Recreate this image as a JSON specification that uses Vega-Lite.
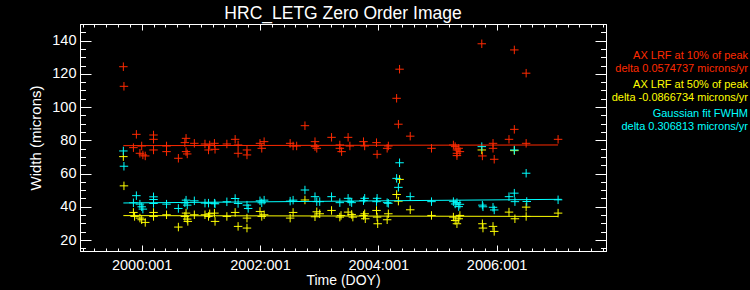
{
  "$schema": "https://vega.github.io/schema/vega-lite/v6.json",
  "width": 526,
  "height": 227,
  "autosize": "none",
  "padding": {"left": 80, "top": 24, "right": 144, "bottom": 39},
  "background": "black",
  "title": {"text": "HRC_LETG Zero Order Image", "color": "white", "fontSize": 17.5, "font": "Liberation Sans", "fontWeight": "normal", "offset": -6, "anchor": "middle"},
  "datasets": {
    "pts": [
      {"s": "10%", "t": 1999.69, "w": 124.3}, {"s": "10%", "t": 1999.70, "w": 112.5}, {"s": "10%", "t": 1999.91, "w": 83.6}, {"s": "10%", "t": 1999.86, "w": 75.6},
      {"s": "10%", "t": 2000.00, "w": 76.6}, {"s": "10%", "t": 1999.97, "w": 72.2}, {"s": "10%", "t": 2000.06, "w": 70.6}, {"s": "10%", "t": 2000.02, "w": 71.2},
      {"s": "10%", "t": 2000.20, "w": 83.2}, {"s": "10%", "t": 2000.20, "w": 80.6}, {"s": "10%", "t": 2000.20, "w": 74.2}, {"s": "10%", "t": 2000.42, "w": 76.6},
      {"s": "10%", "t": 2000.42, "w": 73.2}, {"s": "10%", "t": 2000.62, "w": 69.2}, {"s": "10%", "t": 2000.75, "w": 81.2}, {"s": "10%", "t": 2000.73, "w": 78.6},
      {"s": "10%", "t": 2000.75, "w": 73.2}, {"s": "10%", "t": 2000.77, "w": 71.8}, {"s": "10%", "t": 2000.89, "w": 78.2}, {"s": "10%", "t": 2001.07, "w": 77.8},
      {"s": "10%", "t": 2001.13, "w": 74.2}, {"s": "10%", "t": 2001.15, "w": 77.2}, {"s": "10%", "t": 2001.23, "w": 78.2}, {"s": "10%", "t": 2001.24, "w": 74.6},
      {"s": "10%", "t": 2001.44, "w": 77.8}, {"s": "10%", "t": 2001.58, "w": 80.6}, {"s": "10%", "t": 2001.63, "w": 77.2}, {"s": "10%", "t": 2001.63, "w": 72.2},
      {"s": "10%", "t": 2001.78, "w": 74.2}, {"s": "10%", "t": 2001.78, "w": 71.2}, {"s": "10%", "t": 2002.00, "w": 78.2}, {"s": "10%", "t": 2002.03, "w": 75.2},
      {"s": "10%", "t": 2002.07, "w": 79.2}, {"s": "10%", "t": 2002.51, "w": 78.2}, {"s": "10%", "t": 2002.56, "w": 76.6}, {"s": "10%", "t": 2002.62, "w": 76.6},
      {"s": "10%", "t": 2002.76, "w": 88.8}, {"s": "10%", "t": 2002.93, "w": 79.2}, {"s": "10%", "t": 2002.96, "w": 75.2}, {"s": "10%", "t": 2002.93, "w": 76.2},
      {"s": "10%", "t": 2003.21, "w": 81.8}, {"s": "10%", "t": 2003.35, "w": 77.2}, {"s": "10%", "t": 2003.38, "w": 73.2}, {"s": "10%", "t": 2003.35, "w": 75.2},
      {"s": "10%", "t": 2003.49, "w": 81.8}, {"s": "10%", "t": 2003.52, "w": 76.6}, {"s": "10%", "t": 2003.75, "w": 79.2}, {"s": "10%", "t": 2003.77, "w": 76.6},
      {"s": "10%", "t": 2003.97, "w": 78.6}, {"s": "10%", "t": 2003.98, "w": 71.6}, {"s": "10%", "t": 2004.17, "w": 76.6}, {"s": "10%", "t": 2004.15, "w": 75.2},
      {"s": "10%", "t": 2004.31, "w": 105.3}, {"s": "10%", "t": 2004.34, "w": 89.7}, {"s": "10%", "t": 2004.36, "w": 122.8}, {"s": "10%", "t": 2004.54, "w": 82.5},
      {"s": "10%", "t": 2004.90, "w": 75.2}, {"s": "10%", "t": 2005.27, "w": 77.2}, {"s": "10%", "t": 2005.30, "w": 76.2}, {"s": "10%", "t": 2005.33, "w": 74.2},
      {"s": "10%", "t": 2005.33, "w": 72.2}, {"s": "10%", "t": 2005.36, "w": 75.2}, {"s": "10%", "t": 2005.38, "w": 73.2}, {"s": "10%", "t": 2005.33, "w": 70.8},
      {"s": "10%", "t": 2005.75, "w": 138.1}, {"s": "10%", "t": 2005.76, "w": 70.6}, {"s": "10%", "t": 2005.94, "w": 78.2}, {"s": "10%", "t": 2005.94, "w": 75.2},
      {"s": "10%", "t": 2005.96, "w": 68.6}, {"s": "10%", "t": 2006.21, "w": 80.6}, {"s": "10%", "t": 2006.30, "w": 134.4}, {"s": "10%", "t": 2006.30, "w": 86.6},
      {"s": "10%", "t": 2006.50, "w": 120.4}, {"s": "10%", "t": 2006.50, "w": 78.2}, {"s": "10%", "t": 2007.04, "w": 80.6},

      {"s": "50%", "t": 1999.69, "w": 70.2}, {"s": "50%", "t": 1999.70, "w": 52.6}, {"s": "50%", "t": 1999.86, "w": 36.6}, {"s": "50%", "t": 1999.88, "w": 34.2},
      {"s": "50%", "t": 1999.97, "w": 33.2}, {"s": "50%", "t": 2000.00, "w": 32.2}, {"s": "50%", "t": 2000.06, "w": 30.6}, {"s": "50%", "t": 2000.20, "w": 36.6},
      {"s": "50%", "t": 2000.20, "w": 34.2}, {"s": "50%", "t": 2000.42, "w": 35.2}, {"s": "50%", "t": 2000.62, "w": 27.8}, {"s": "50%", "t": 2000.75, "w": 36.2},
      {"s": "50%", "t": 2000.73, "w": 34.2}, {"s": "50%", "t": 2000.77, "w": 32.6}, {"s": "50%", "t": 2000.78, "w": 31.2}, {"s": "50%", "t": 2000.89, "w": 35.2},
      {"s": "50%", "t": 2001.07, "w": 35.2}, {"s": "50%", "t": 2001.13, "w": 34.2}, {"s": "50%", "t": 2001.15, "w": 35.8}, {"s": "50%", "t": 2001.23, "w": 36.2},
      {"s": "50%", "t": 2001.24, "w": 31.2}, {"s": "50%", "t": 2001.44, "w": 34.2}, {"s": "50%", "t": 2001.58, "w": 36.6}, {"s": "50%", "t": 2001.63, "w": 28.2},
      {"s": "50%", "t": 2001.78, "w": 33.2}, {"s": "50%", "t": 2001.78, "w": 27.2}, {"s": "50%", "t": 2002.00, "w": 37.2}, {"s": "50%", "t": 2002.03, "w": 34.2},
      {"s": "50%", "t": 2002.07, "w": 35.2}, {"s": "50%", "t": 2002.51, "w": 33.2}, {"s": "50%", "t": 2002.56, "w": 36.6}, {"s": "50%", "t": 2002.76, "w": 44.1},
      {"s": "50%", "t": 2002.96, "w": 37.0}, {"s": "50%", "t": 2002.93, "w": 34.0}, {"s": "50%", "t": 2003.01, "w": 35.8}, {"s": "50%", "t": 2003.21, "w": 37.8},
      {"s": "50%", "t": 2003.35, "w": 33.8}, {"s": "50%", "t": 2003.37, "w": 34.8}, {"s": "50%", "t": 2003.49, "w": 36.8}, {"s": "50%", "t": 2003.55, "w": 35.4},
      {"s": "50%", "t": 2003.57, "w": 33.8}, {"s": "50%", "t": 2003.75, "w": 34.8}, {"s": "50%", "t": 2003.77, "w": 35.8}, {"s": "50%", "t": 2003.78, "w": 32.8},
      {"s": "50%", "t": 2003.97, "w": 37.8}, {"s": "50%", "t": 2003.98, "w": 33.8}, {"s": "50%", "t": 2003.99, "w": 29.8}, {"s": "50%", "t": 2004.17, "w": 35.8},
      {"s": "50%", "t": 2004.15, "w": 32.2}, {"s": "50%", "t": 2004.31, "w": 47.4}, {"s": "50%", "t": 2004.34, "w": 43.4}, {"s": "50%", "t": 2004.36, "w": 56.5},
      {"s": "50%", "t": 2004.54, "w": 38.2}, {"s": "50%", "t": 2004.90, "w": 34.8}, {"s": "50%", "t": 2005.27, "w": 33.8}, {"s": "50%", "t": 2005.30, "w": 31.8},
      {"s": "50%", "t": 2005.33, "w": 29.8}, {"s": "50%", "t": 2005.36, "w": 32.8}, {"s": "50%", "t": 2005.38, "w": 34.8}, {"s": "50%", "t": 2005.75, "w": 74.2},
      {"s": "50%", "t": 2005.76, "w": 29.8}, {"s": "50%", "t": 2005.77, "w": 27.2}, {"s": "50%", "t": 2005.94, "w": 28.2}, {"s": "50%", "t": 2005.96, "w": 25.2},
      {"s": "50%", "t": 2006.21, "w": 36.8}, {"s": "50%", "t": 2006.30, "w": 73.8}, {"s": "50%", "t": 2006.31, "w": 32.8}, {"s": "50%", "t": 2006.50, "w": 34.2},
      {"s": "50%", "t": 2006.50, "w": 39.8}, {"s": "50%", "t": 2007.04, "w": 36.2},

      {"s": "FWHM", "t": 1999.69, "w": 73.6}, {"s": "FWHM", "t": 1999.70, "w": 64.4}, {"s": "FWHM", "t": 1999.91, "w": 46.7}, {"s": "FWHM", "t": 1999.86, "w": 42.4},
      {"s": "FWHM", "t": 1999.97, "w": 41.6}, {"s": "FWHM", "t": 2000.00, "w": 40.0}, {"s": "FWHM", "t": 2000.02, "w": 38.6}, {"s": "FWHM", "t": 2000.20, "w": 46.0},
      {"s": "FWHM", "t": 2000.20, "w": 44.4}, {"s": "FWHM", "t": 2000.20, "w": 42.0}, {"s": "FWHM", "t": 2000.42, "w": 41.6}, {"s": "FWHM", "t": 2000.62, "w": 39.0},
      {"s": "FWHM", "t": 2000.75, "w": 44.0}, {"s": "FWHM", "t": 2000.73, "w": 42.4}, {"s": "FWHM", "t": 2000.77, "w": 41.0}, {"s": "FWHM", "t": 2000.89, "w": 43.6},
      {"s": "FWHM", "t": 2001.07, "w": 42.2}, {"s": "FWHM", "t": 2001.13, "w": 42.2}, {"s": "FWHM", "t": 2001.23, "w": 42.2}, {"s": "FWHM", "t": 2001.24, "w": 41.8},
      {"s": "FWHM", "t": 2001.44, "w": 43.0}, {"s": "FWHM", "t": 2001.58, "w": 45.0}, {"s": "FWHM", "t": 2001.63, "w": 42.0}, {"s": "FWHM", "t": 2001.78, "w": 41.0},
      {"s": "FWHM", "t": 2001.80, "w": 39.0}, {"s": "FWHM", "t": 2002.00, "w": 43.6}, {"s": "FWHM", "t": 2002.03, "w": 42.4}, {"s": "FWHM", "t": 2002.07, "w": 44.0},
      {"s": "FWHM", "t": 2002.51, "w": 43.4}, {"s": "FWHM", "t": 2002.56, "w": 44.0}, {"s": "FWHM", "t": 2002.76, "w": 50.1}, {"s": "FWHM", "t": 2002.93, "w": 46.1},
      {"s": "FWHM", "t": 2002.96, "w": 43.1}, {"s": "FWHM", "t": 2003.01, "w": 43.1}, {"s": "FWHM", "t": 2003.21, "w": 46.1}, {"s": "FWHM", "t": 2003.35, "w": 42.5},
      {"s": "FWHM", "t": 2003.49, "w": 45.1}, {"s": "FWHM", "t": 2003.52, "w": 43.1}, {"s": "FWHM", "t": 2003.55, "w": 42.5}, {"s": "FWHM", "t": 2003.75, "w": 43.7},
      {"s": "FWHM", "t": 2003.77, "w": 45.1}, {"s": "FWHM", "t": 2003.97, "w": 43.1}, {"s": "FWHM", "t": 2003.98, "w": 45.1}, {"s": "FWHM", "t": 2004.17, "w": 42.1},
      {"s": "FWHM", "t": 2004.15, "w": 42.5}, {"s": "FWHM", "t": 2004.31, "w": 57.1}, {"s": "FWHM", "t": 2004.34, "w": 51.7}, {"s": "FWHM", "t": 2004.36, "w": 66.5},
      {"s": "FWHM", "t": 2004.54, "w": 46.1}, {"s": "FWHM", "t": 2004.90, "w": 43.1}, {"s": "FWHM", "t": 2005.27, "w": 43.1}, {"s": "FWHM", "t": 2005.30, "w": 41.7},
      {"s": "FWHM", "t": 2005.33, "w": 42.5}, {"s": "FWHM", "t": 2005.36, "w": 40.1}, {"s": "FWHM", "t": 2005.38, "w": 41.5}, {"s": "FWHM", "t": 2005.75, "w": 76.2},
      {"s": "FWHM", "t": 2005.76, "w": 41.0}, {"s": "FWHM", "t": 2005.77, "w": 40.0}, {"s": "FWHM", "t": 2005.94, "w": 39.7}, {"s": "FWHM", "t": 2005.96, "w": 38.1},
      {"s": "FWHM", "t": 2006.21, "w": 46.1}, {"s": "FWHM", "t": 2006.30, "w": 48.2}, {"s": "FWHM", "t": 2006.30, "w": 74.2}, {"s": "FWHM", "t": 2006.31, "w": 43.1},
      {"s": "FWHM", "t": 2006.50, "w": 60.2}, {"s": "FWHM", "t": 2006.51, "w": 43.2}, {"s": "FWHM", "t": 2007.04, "w": 44.2}
    ],
    "fits": [
      {"s": "10%", "t": 1999.69, "w": 76.8}, {"s": "10%", "t": 2007.04, "w": 77.2},
      {"s": "50%", "t": 1999.69, "w": 34.7}, {"s": "50%", "t": 2007.04, "w": 34.2},
      {"s": "FWHM", "t": 1999.69, "w": 42.3}, {"s": "FWHM", "t": 2007.10, "w": 44.5}
    ]
  },
  "layer": [
    {
      "data": {"name": "pts"},
      "mark": {"type": "point", "shape": "M-1,0L1,0M0,-1L0,1", "filled": false, "size": 72, "strokeWidth": 1, "opacity": 1},
      "encoding": {
        "x": {"field": "t", "type": "quantitative", "title": "Time (DOY)",
          "scale": {"domain": [1998.957, 2007.85], "nice": false, "zero": false},
          "axis": {"orient": "bottom",
            "values": [1999,1999.2,1999.4,1999.6,1999.8,2000,2000.2,2000.4,2000.6,2000.8,2001,2001.2,2001.4,2001.6,2001.8,2002,2002.2,2002.4,2002.6,2002.8,2003,2003.2,2003.4,2003.6,2003.8,2004,2004.2,2004.4,2004.6,2004.8,2005,2005.2,2005.4,2005.6,2005.8,2006,2006.2,2006.4,2006.6,2006.8,2007,2007.2,2007.4,2007.6,2007.8],
            "labelExpr": "abs(datum.value - 2*round(datum.value/2)) < 0.01 ? format(round(datum.value), 'd') + ':001' : ''",
            "tickSize": {"condition": {"test": "abs(datum.value - 2*round(datum.value/2)) < 0.01", "value": -6}, "value": -3},
            "labelPadding": 13, "titlePadding": -1, "titleFontSize": 14, "labelFontSize": 14.5}},
        "y": {"field": "w", "type": "quantitative", "title": "Width (microns)",
          "scale": {"domain": [13.4, 150], "nice": false, "zero": false},
          "axis": {"orient": "left",
            "values": [15,20,25,30,35,40,45,50,55,60,65,70,75,80,85,90,95,100,105,110,115,120,125,130,135,140,145,150],
            "labelExpr": "datum.value % 20 === 0 ? '' + datum.value : ''",
            "tickSize": {"condition": {"test": "datum.value % 20 === 0", "value": -11}, "value": -5.5},
            "labelPadding": 15, "titlePadding": 8, "titleFontSize": 15, "labelFontSize": 14.5}},
        "color": {"field": "s", "type": "nominal",
          "scale": {"domain": ["10%", "50%", "FWHM"], "range": ["#ff2a00", "#ffff00", "#00ffff"]},
          "legend": {"orient": "right", "offset": 0, "padding": 26, "title": null,
            "symbolOpacity": 0, "symbolSize": 0, "symbolStrokeWidth": 0,
            "labelAlign": "right", "labelOffset": 104, "labelLimit": 400, "rowPadding": 4,
            "labelFont": "Liberation Sans", "labelFontSize": 11,
            "labelColor": {"expr": "datum.value == '10%' ? '#ff2a00' : datum.value == '50%' ? '#ffff00' : '#00ffff'"},
            "labelExpr": "datum.value == '10%' ? ['AX LRF at 10% of peak', 'delta 0.0574737 microns/yr'] : datum.value == '50%' ? ['AX LRF at 50% of peak', 'delta -0.0866734 microns/yr'] : ['Gaussian fit FWHM', 'delta 0.306813 microns/yr']"}}
      }
    },
    {
      "data": {"name": "fits"},
      "mark": {"type": "line", "strokeWidth": 1},
      "encoding": {
        "x": {"field": "t", "type": "quantitative",
          "scale": {"domain": [1998.957, 2007.85], "nice": false, "zero": false},
          "axis": {"orient": "top", "title": null, "labels": false,
            "values": [1999,1999.2,1999.4,1999.6,1999.8,2000,2000.2,2000.4,2000.6,2000.8,2001,2001.2,2001.4,2001.6,2001.8,2002,2002.2,2002.4,2002.6,2002.8,2003,2003.2,2003.4,2003.6,2003.8,2004,2004.2,2004.4,2004.6,2004.8,2005,2005.2,2005.4,2005.6,2005.8,2006,2006.2,2006.4,2006.6,2006.8,2007,2007.2,2007.4,2007.6,2007.8],
            "tickSize": {"condition": {"test": "abs(datum.value - 2*round(datum.value/2)) < 0.01", "value": -6}, "value": -3}}},
        "y": {"field": "w", "type": "quantitative",
          "scale": {"domain": [13.4, 150], "nice": false, "zero": false},
          "axis": {"orient": "right", "title": null, "labels": false,
            "values": [15,20,25,30,35,40,45,50,55,60,65,70,75,80,85,90,95,100,105,110,115,120,125,130,135,140,145,150],
            "tickSize": {"condition": {"test": "datum.value % 20 === 0", "value": -11}, "value": -5.5}}},
        "color": {"field": "s", "type": "nominal", "legend": null},
        "detail": {"field": "s"}
      }
    }
  ],
  "resolve": {"axis": {"x": "independent", "y": "independent"}},
  "config": {
    "view": {"stroke": "white", "strokeWidth": 1},
    "axis": {"grid": false, "domainColor": "white", "tickColor": "white", "labelColor": "white", "titleColor": "white",
      "labelFont": "Liberation Sans", "titleFont": "Liberation Sans", "titleFontWeight": "normal",
      "labelOverlap": false, "labelFlush": false, "tickWidth": 1, "domainWidth": 1}
  }
}
